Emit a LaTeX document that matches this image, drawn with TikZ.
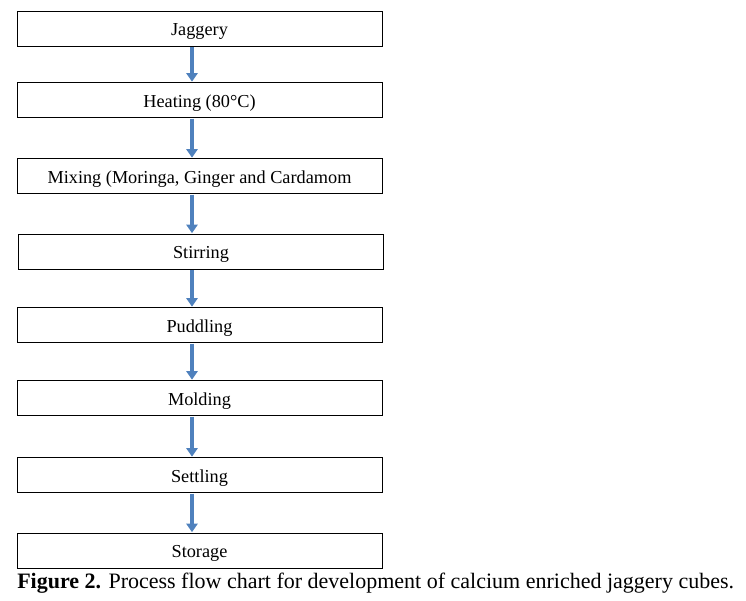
\documentclass[tikz,border=0pt]{standalone}
\usepackage{fontspec}
\setmainfont{Liberation Serif}
\usetikzlibrary{arrows.meta}
\definecolor{arrowblue}{HTML}{4F81BD}
\tikzset{
  stepbox/.style={draw=black, line width=0.65pt, rectangle, minimum width=273.75pt, minimum height=26.25pt, inner sep=0pt, text height=12.5pt, text depth=2pt, font=\fontsize{13.7}{15}\selectfont},
  flowarrow/.style={draw=arrowblue, line width=2.8pt, -{Triangle[width=8.5pt,length=6.5pt]}, shorten <=0.5pt, shorten >=0.3pt}
}
\begin{document}
\begin{tikzpicture}[x=0.75pt,y=-0.75pt]
\useasboundingbox (0,0) rectangle (746,600);
\node[stepbox] (jag) at (199.5,28.5) {Jaggery};
\node[stepbox] (heat) at (199.5,100) {Heating (80°C)};
\node[stepbox] (mix) at (199.5,176) {Mixing (Moringa, Ginger and Cardamom};
\node[stepbox] (stir) at (201,251.5) {Stirring};
\node[stepbox] (pud) at (199.5,325) {Puddling};
\node[stepbox] (mold) at (199.5,398) {Molding};
\node[stepbox] (set) at (199.5,475) {Settling};
\node[stepbox] (stor) at (199.5,550.5) {Storage};
\coordinate (ax) at (192,0);
\foreach \a/\b in {jag/heat,heat/mix,mix/stir,stir/pud,pud/mold,mold/set,set/stor}{
  \draw[flowarrow] (\a.south -| ax) -- (\b.north -| ax);
}
\node[anchor=west, inner sep=0pt, font=\fontsize{16.5}{18}\selectfont] (cap) at (17,583) {\textbf{Figure 2.} Process flow chart for development of calcium enriched jaggery cubes.};
\end{tikzpicture}
\end{document}
